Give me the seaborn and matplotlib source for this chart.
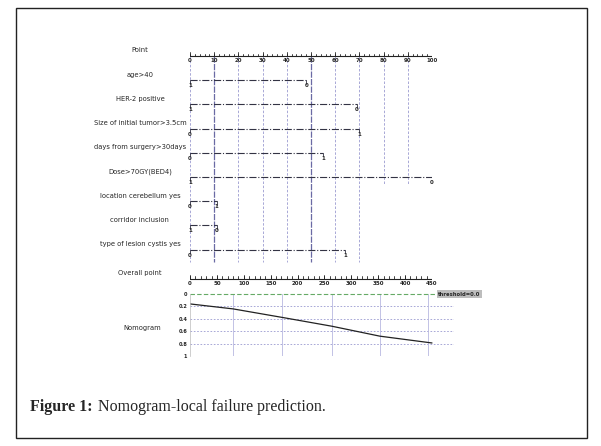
import numpy as np
import pandas as pd
import seaborn as sns
import matplotlib
matplotlib.use("Agg")
from matplotlib import pyplot as plt
from matplotlib.patches import Rectangle

# nomogram variables
var_names = ["age>40", "HER-2 positive", "Size of initial tumor>3.5cm",
             "days from surgery>30days", "Dose>70GY(BED4)", "location cerebellum yes",
             "corridor inclusion", "type of lesion cystis yes"]
var_points = [48, 69, 70, 55, 100, 11, 11, 64]
left_labels = ["1", "1", "0", "0", "1", "0", "1", "0"]
right_labels = ["0", "0", "1", "1", "0", "1", "0", "1"]

point_ticks = [0, 10, 20, 30, 40, 50, 60, 70, 80, 90, 100]
overall_ticks = [0, 50, 100, 150, 200, 250, 300, 350, 400, 450]

# predicted local failure curve
curve_points = [0, 80, 173, 264, 353, 450]
curve_risk = [0.16, 0.24, 0.38, 0.52, 0.68, 0.79]
nomo_xgrid = [80, 172, 264, 353, 442]
nomo_yticks = [0, 0.2, 0.4, 0.6, 0.8, 1]
nomo_ylabels = ["0", "0.2", "0.4", "0.6", "0.8", "1"]

sns.set_style("white")
plt.rcParams['font.family'] = ['DejaVu Sans']

W, H = 601, 446
fig = plt.figure(figsize=(W / 100, H / 100), dpi=100)

def px_axes(x0, y0, x1, y1):
    return fig.add_axes([x0 / W, 1 - y1 / H, (x1 - x0) / W, (y1 - y0) / H])

line_col = "#333344"
grid_col = "#9a9ad0"
dark_grid = "#5a5a9a"
lab_fs = 4.9
tick_fs = 4.0

# ---- top: points + variables
ax = px_axes(190, 40, 432, 290)
ax.set_xlim(0, 100)
row_h = 24.2
ax.set_ylim(234 / row_h, -16 / row_h)
ax.axis("off")

n = len(var_names)
overall_row = 9.2
# vertical grid
for t in point_ticks:
    end = n + 0.5 if t <= 70 else 5.3
    if t in (10, 50):
        ax.plot([t, t], [0, end], color=dark_grid, lw=0.9, ls=(0, (5, 1)), alpha=0.9)
    else:
        ax.plot([t, t], [0, end], color=grid_col, lw=0.6, ls=(0, (3, 2)))

# point axis
ax.plot([0, 100], [0, 0], color="#222222", lw=0.8)
for t in np.arange(0, 101, 2):
    ax.plot([t, t], [0, -0.09], color="#222222", lw=0.6)
for t in point_ticks:
    ax.plot([t, t], [0, -0.16], color="#222222", lw=0.6)
    ax.text(t, 0.1, str(t), ha="center", va="top", fontsize=tick_fs, fontweight="bold")
ax.text(-20.7, -0.25, "Point", ha="center", va="center", fontsize=lab_fs)

# variable rows
for i, (name, pts, ll, rl) in enumerate(zip(var_names, var_points, left_labels, right_labels)):
    y = i + 1
    ax.plot([0, pts], [y, y], color=line_col, lw=0.8, ls="-.")
    ax.plot([0, 0], [y, y + 0.15], color=line_col, lw=0.6)
    ax.plot([pts, pts], [y, y + 0.15], color=line_col, lw=0.6)
    ax.text(0, y + 0.12, ll, ha="center", va="top", fontsize=tick_fs, fontweight="bold")
    ax.text(pts, y + 0.12, rl, ha="center", va="top", fontsize=tick_fs, fontweight="bold")
    ax.text(-20.7, y - 0.22, name, ha="center", va="center", fontsize=lab_fs)

# overall point axis (0-450 mapped to 0-100)
sc = 100 / 450
ax.plot([0, 100], [overall_row, overall_row], color="#222222", lw=0.8)
for t in np.arange(0, 451, 10):
    ax.plot([t * sc, t * sc], [overall_row, overall_row - 0.09], color="#222222", lw=0.6)
for t in overall_ticks:
    ax.plot([t * sc, t * sc], [overall_row, overall_row - 0.16], color="#222222", lw=0.6)
    ax.text(t * sc, overall_row + 0.1, str(t), ha="center", va="top", fontsize=tick_fs, fontweight="bold")
ax.text(-20.7, overall_row - 0.25, "Overall point", ha="center", va="center", fontsize=lab_fs)

# ---- bottom: nomogram curve
ax2 = px_axes(190, 294, 454, 356)
ax2.set_xlim(0, 450 * 264 / 242)
ax2.set_ylim(1.0, 0.0)
for s in ["top", "right", "bottom"]:
    ax2.spines[s].set_visible(False)
ax2.spines["left"].set_color("#bbbbbb")
ax2.spines["left"].set_linewidth(0.5)
ax2.set_yticks(nomo_yticks)
ax2.set_yticklabels(nomo_ylabels, fontsize=3.6, fontweight="bold")
ax2.set_xticks(nomo_xgrid)
ax2.set_xticklabels([])
ax2.tick_params(axis="both", direction="in", length=2, width=0.5, color="#444444", pad=2)
for v in nomo_yticks[1:-1]:
    ax2.axhline(v, color=grid_col, lw=0.6, ls=(0, (2, 2)))
for v in nomo_xgrid:
    ax2.axvline(v, color="#b8b8e0", lw=0.6, ls="-")
ax2.axhline(0, color="#66aa66", lw=0.8, ls=(0, (4, 2)), clip_on=False)
df = pd.DataFrame({"points": curve_points, "risk": curve_risk})
sns.lineplot(data=df, x="points", y="risk", ax=ax2, color="#222222", lw=0.9)
ax2.set_xlabel("")
ax2.set_ylabel("")
ax2.text(0.94, 1.0, "threshold=0.0", transform=ax2.transAxes, ha="left", va="center",
         fontsize=3.8, fontweight="bold", zorder=5,
         bbox=dict(boxstyle="square,pad=0.3", fc="#bdbdbd", ec="none"))
ax2.text(-0.18, 0.45, "Nomogram", transform=ax2.transAxes, ha="center", va="center", fontsize=lab_fs)

# ---- frame and caption
fig.patches.append(Rectangle((16 / W, 1 - 438 / H), 571 / W, 430 / H, transform=fig.transFigure,
                             fill=False, ec="#222222", lw=1.0))
cap1 = fig.text(30 / W, 1 - 407 / H, "Figure 1:", fontsize=11.5, fontweight="bold",
                family=["Liberation Serif"], va="center", ha="left")
fig.canvas.draw()
bb = cap1.get_window_extent()
fig.text((bb.x1 + 5) / W, 1 - 407 / H, "Nomogram-local failure prediction.", fontsize=11.5,
         family=["Liberation Serif"], va="center", ha="left")

fig.savefig("out.png", dpi=100)
